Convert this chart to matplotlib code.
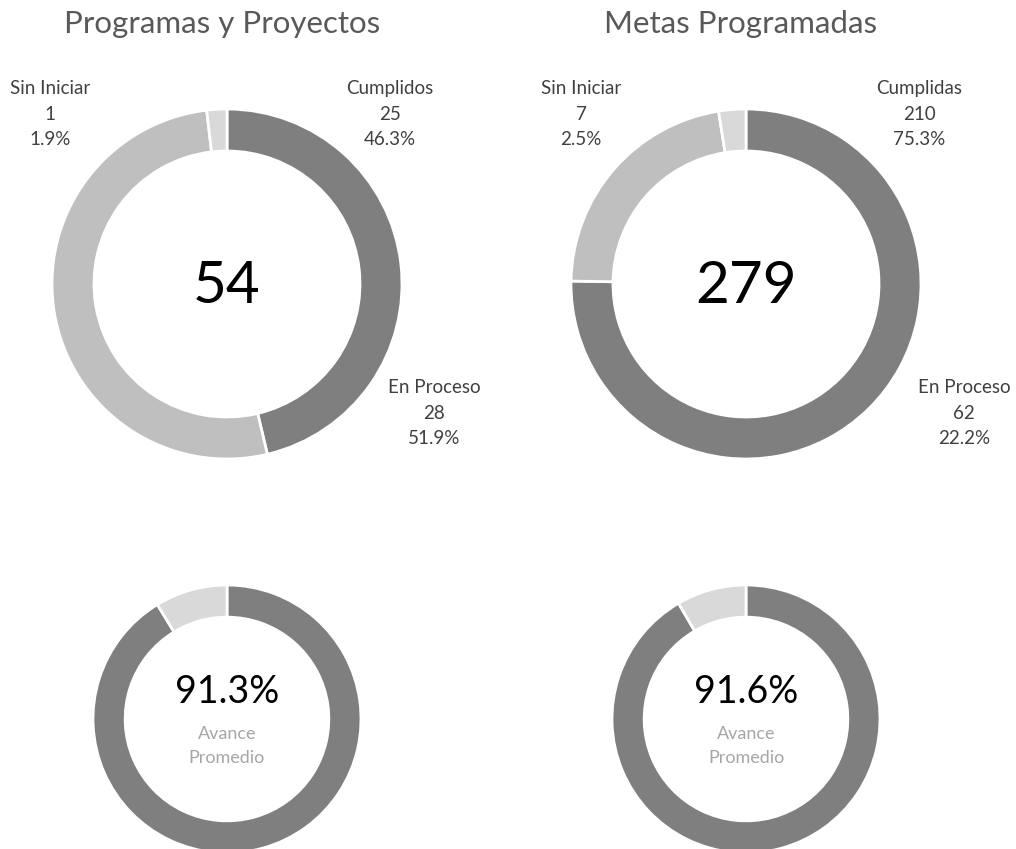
import numpy as np
import matplotlib
matplotlib.use("Agg")
import matplotlib.pyplot as plt

plt.rcParams['font.family'] = ['Lato', 'DejaVu Sans']

# data
titles = ["Programas y Proyectos", "Metas Programadas"]
cats_left = ["Cumplidos", "En Proceso", "Sin Iniciar"]
cats_right = ["Cumplidas", "En Proceso", "Sin Iniciar"]
vals_left = [25, 28, 1]
vals_right = [210, 62, 7]
avance_left = 91.3
avance_right = 91.6

DARK = "#7f7f7f"
LIGHT = "#bfbfbf"
VLIGHT = "#d9d9d9"
TXT = "#404040"

W, H = 1016, 849
fig = plt.figure(figsize=(W / 100, H / 100), dpi=100)
ax = fig.add_axes([0, 0, 1, 1])

def Y(y):
    # image pixel row -> data y
    return H - y

def donut(cx, cy, r, vals, colors):
    ax.pie(vals, colors=colors, center=(cx, Y(cy)), radius=r,
           startangle=90, counterclock=False,
           wedgeprops=dict(width=r * 0.24, edgecolor="white", linewidth=2))

# top donuts
for cx, vals, title in [(227, vals_left, titles[0]),
                        (746, vals_right, titles[1])]:
    donut(cx, 284, 175, vals, [DARK, LIGHT, VLIGHT])
    ax.text(cx - 5, Y(24), title, ha="center", va="center", fontsize=22.5,
            color="#595959")
    total = sum(vals)
    ax.text(cx, Y(286), str(total), ha="center", va="center", fontsize=42,
            color="black")

# labels (positions from the picture)
lab_pos_left = [(390, 114), (434, 413), (50, 114)]
lab_pos_right = [(919, 114), (964, 413), (581, 114)]
for vals, cats, pos in [(vals_left, cats_left, lab_pos_left),
                        (vals_right, cats_right, lab_pos_right)]:
    total = sum(vals)
    for v, c, (x, y) in zip(vals, cats, pos):
        txt = "%s\n%d\n%.1f%%" % (c, v, 100.0 * v / total)
        ax.text(x, Y(y), txt, ha="center", va="center", fontsize=13.5,
                color=TXT, linespacing=1.6)

# bottom donuts
for cx, av in [(227, avance_left), (746, avance_right)]:
    donut(cx, 719, 134, [av, 100 - av], [DARK, VLIGHT])
    ax.text(cx, Y(692), "%.1f%%" % av, ha="center", va="center",
            fontsize=27, color="black")
    ax.text(cx, Y(746), "Avance\nPromedio", ha="center", va="center",
            fontsize=13, color="#a6a6a6", linespacing=1.6)

ax.set_xlim(0, W)
ax.set_ylim(0, H)
ax.set_aspect("auto")
ax.axis("off")

fig.savefig("out.png", dpi=100, facecolor="white")
